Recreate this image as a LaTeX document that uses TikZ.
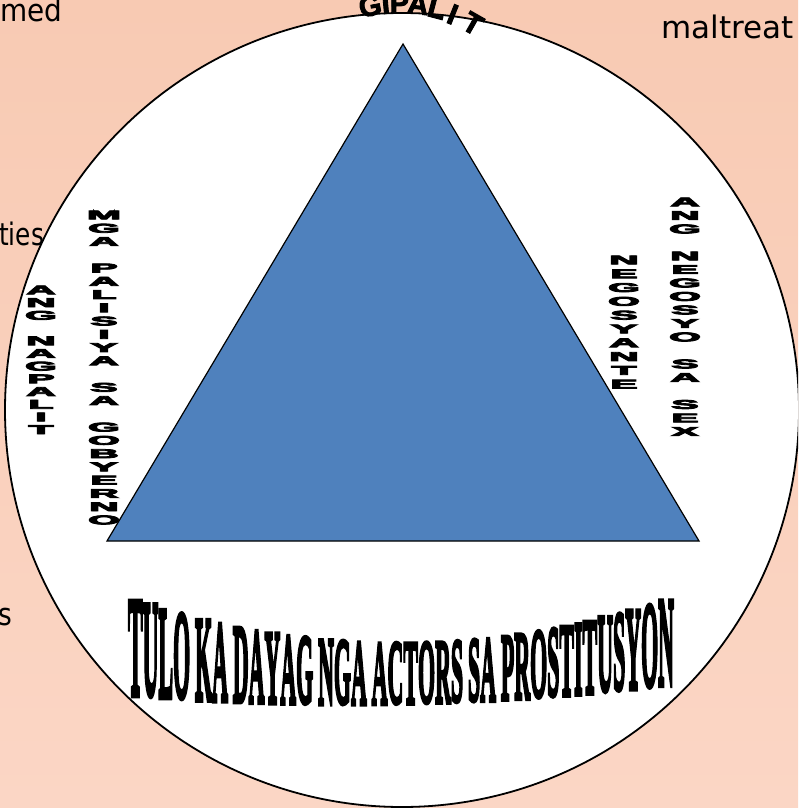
\documentclass[tikz,border=0pt]{standalone}
\usepackage{fontspec}
\usepackage{graphicx}
\setmainfont{Liberation Sans}
\newfontfamily\bgfont{DejaVu Sans}
\newfontfamily\wafont{Liberation Serif}[UprightFont=* Bold, FakeBold=5]
\newfontfamily\stkfont{Liberation Sans}[UprightFont=* Bold, FakeBold=6]
\newfontfamily\arcfont{Liberation Sans}[UprightFont=* Bold, FakeBold=3]
\definecolor{peachtop}{HTML}{F8CAB3}
\definecolor{peachbot}{HTML}{FBD6C5}
\definecolor{triblue}{HTML}{4F81BD}
\tikzset{
  bgtext/.style={font=\bgfont\fontsize{31}{31}\selectfont, inner sep=0pt, text=black},
  stackl/.style={inner sep=0pt, anchor=center},
  arcl/.style={inner sep=0pt, anchor=base, font=\arcfont\fontsize{29}{29}\selectfont},
  botl/.style={inner sep=0pt, anchor=south},
  ring/.style={circle, draw=black, line width=1.8pt, fill=white, inner sep=0pt, minimum size=794pt},
  tri/.style={draw=black, fill=triblue, line width=1.2pt, line join=miter}
}
\newcommand{\sqz}[1]{\scalebox{1.35}[0.42]{\stkfont\fontsize{30}{30}\selectfont #1}}
\begin{document}
\begin{tikzpicture}[x=1pt,y=-1pt]
\useasboundingbox (0,0) rectangle (798,808);
\clip (0,0) rectangle (798,808);
\shade[top color=peachtop, bottom color=peachbot] (0,0) rectangle (798,808);
% background fragments
\node[bgtext, anchor=base west] (med) at (0,22) {\scalebox{0.9}[1]{med}};
\node[bgtext, anchor=base west] (ties) at (-1,245) {\scalebox{0.8}[1]{ties}};
\node[bgtext, anchor=base west] (s) at (-2,625) {\scalebox{0.85}[1]{s}};
\node[bgtext, anchor=base west] (mal) at (661,38) {maltreat};
% circle
\node[ring] (circ) at (402,410) {};
% triangle
\coordinate (apex) at (403,44);
\coordinate (bl) at (107,541);
\coordinate (br) at (699,541);
\draw[tri] (apex) -- (br) -- (bl) -- cycle;
% GIPALIT
\foreach \c/\x/\a [count=\i] in {G/372/-10.9, I/386.5/-5.2, P/399.5/-0.2, A/417/6.6, L/434.5/14.7, I/449/21.8, T/468/29.6}{
  \pgfmathsetmacro\yy{161-148*cos(\a)}
  \node[arcl, rotate=-\a] (g\i) at (\x,\yy) {\c};
}
% vertical stacks
\foreach \c [count=\i] in {A,N,G,{},N,A,G,P,A,L,I,T}{
  \node[stackl] (lo\i) at (41, {290+(\i-1)*12.7}) {\sqz{\c}};
}
\foreach \c [count=\i] in {M,G,A,{},P,A,L,I,S,I,Y,A,{},S,A,{},G,O,B,Y,E,R,N,O}{
  \node[stackl] (li\i) at (104, {215+(\i-1)*13.26}) {\sqz{\c}};
}
\foreach \c [count=\i] in {N,E,G,O,S,Y,A,N,T,E}{
  \node[stackl] (ri\i) at (624, {260+(\i-1)*13.8}) {\sqz{\c}};
}
\foreach \c [count=\i] in {A,N,G,{},N,E,G,O,S,Y,O,{},S,A,{},S,E,X}{
  \node[stackl] (ro\i) at (685, {202+(\i-1)*13.5}) {\sqz{\c}};
}
% bottom WordArt
\def\cx{128}
\foreach \c/\w [count=\i] in {T/.667,U/.722,L/.667,O/.778,{}/.22,K/.778,A/.722,{}/.22,D/.722,A/.722,Y/.722,A/.722,G/.778,{}/.22,N/.722,G/.778,A/.722,{}/.22,A/.722,C/.722,T/.667,O/.778,R/.722,S/.556,{}/.22,S/.556,A/.722,{}/.22,P/.611,R/.722,O/.778,S/.556,T/.667,I/.389,T/.667,U/.722,S/.556,Y/.722,O/.778,N/.722}{
  \pgfmathsetmacro\xm{\cx+\w*21.95/2}
  \pgfmathsetmacro\tq{(\xm-400)/275}
  \pgfmathsetmacro\ytop{644-45*\tq*\tq}
  \pgfmathsetmacro\ybot{704-15*\tq*\tq-5*\tq}
  \pgfmathsetmacro\hh{\ybot-\ytop}
  \pgfmathsetmacro\ww{\w*21.95*0.99}
  \ifdim\w pt>0.3pt
    \node[botl] (b\i) at (\xm,\ybot) {\resizebox{\ww pt}{\hh pt}{\wafont \c}};
  \fi
  \pgfmathsetmacro\nx{\cx+\w*21.95}
  \xdef\cx{\nx}
}
\end{tikzpicture}
\end{document}
